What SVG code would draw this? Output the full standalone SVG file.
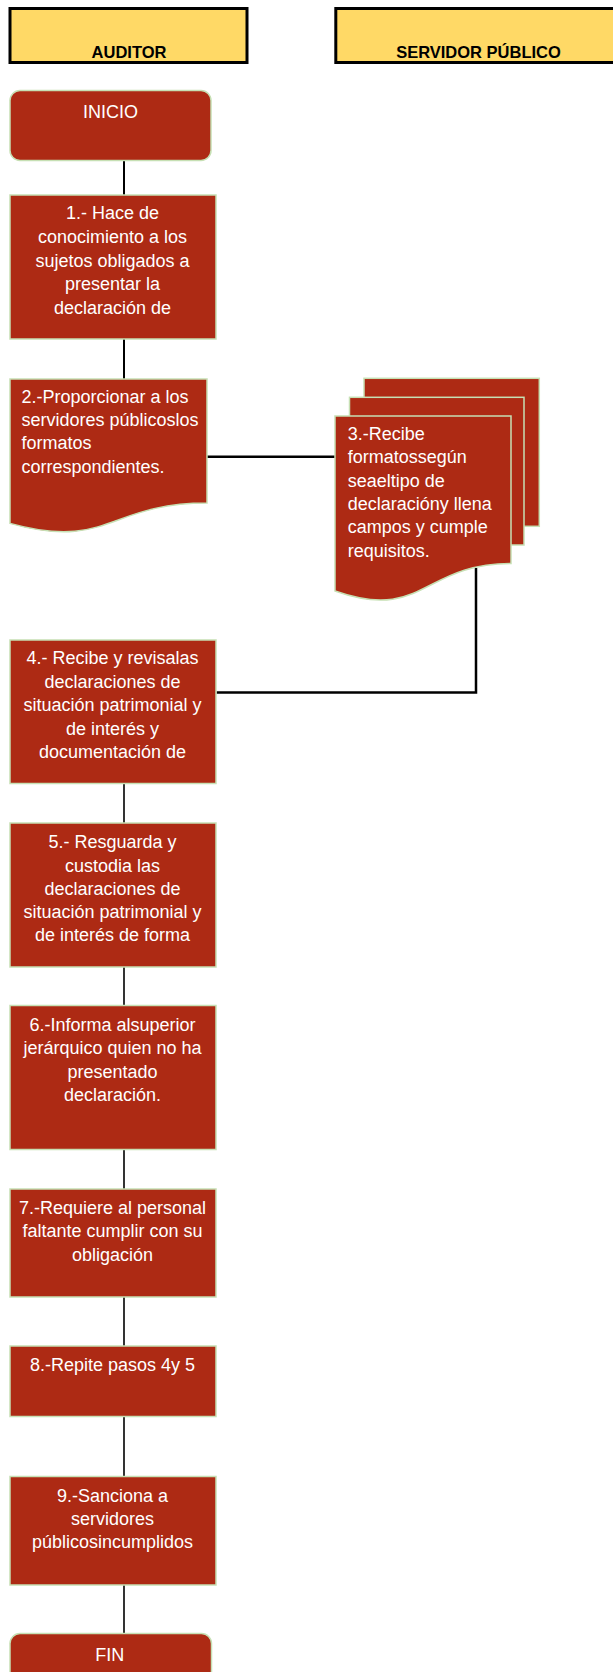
<svg xmlns="http://www.w3.org/2000/svg" width="613" height="1672" viewBox="0 0 613 1672">
<style>
.hdr{fill:#FFD966;stroke:#000;stroke-width:3}
.ht{font-family:"Liberation Sans",Arial,sans-serif;font-weight:bold;font-size:16.5px;fill:#000;text-anchor:middle}
.n{fill:#AD2A14;stroke:#C6E0B4;stroke-width:1.5}
.t{font-family:"Liberation Sans",Arial,sans-serif;font-size:18px;fill:#FFFFFF}
.c{text-anchor:middle}
.l{stroke:#000;fill:none}
</style>
<rect width="613" height="1672" fill="#FFFFFF"/>
<g id="lane-auditor">
<rect class="hdr" x="10" y="8.5" width="237" height="54"/>
<text class="ht" x="129" y="58">AUDITOR</text>
</g>
<g id="lane-servidor">
<rect class="hdr" x="335.8" y="8.5" width="290" height="54"/>
<text class="ht" x="478.5" y="58">SERVIDOR PÚBLICO</text>
</g>
<g id="connectors">
<line class="l" stroke-width="2" x1="124" y1="160.5" x2="124" y2="195"/>
<line class="l" stroke-width="2" x1="124" y1="339" x2="124" y2="379"/>
<line class="l" stroke-width="1.6" x1="124" y1="783.5" x2="124" y2="823"/>
<line class="l" stroke-width="1.6" x1="124" y1="967" x2="124" y2="1005.5"/>
<line class="l" stroke-width="1.6" x1="124" y1="1149.5" x2="124" y2="1189"/>
<line class="l" stroke-width="1.6" x1="124" y1="1297" x2="124" y2="1346"/>
<line class="l" stroke-width="1.6" x1="124" y1="1416.5" x2="124" y2="1476.5"/>
<line class="l" stroke-width="1.6" x1="124" y1="1585" x2="124" y2="1633.5"/>
<line class="l" stroke-width="2.5" x1="207" y1="456.7" x2="335" y2="456.7"/>
<polyline class="l" stroke-width="2.5" points="476,568 476,692.5 216.5,692.5"/>
</g>
<g id="inicio">
<rect class="n" x="10" y="90.5" width="201" height="70" rx="10"/>
<text class="t c" x="110.5" y="118">INICIO</text>
</g>
<g id="paso1">
<rect class="n" x="10" y="195" width="206" height="144"/>
<text class="t c" x="112.5"><tspan x="112.5" y="219.3">1.- Hace de</tspan><tspan x="112.5" y="243">conocimiento a los</tspan><tspan x="112.5" y="266.5">sujetos obligados a</tspan><tspan x="112.5" y="290">presentar la</tspan><tspan x="112.5" y="313.5">declaración de</tspan></text>
</g>
<g id="paso2">
<path class="n" d="M10,379 H207 V503 C108.5,503 108.5,550.7 10,523.4 Z"/>
<text class="t"><tspan x="21.5" y="402.7">2.-Proporcionar a los</tspan><tspan x="21.5" y="426">servidores públicoslos</tspan><tspan x="21.5" y="449.3">formatos</tspan><tspan x="21.5" y="472.7">correspondientes.</tspan></text>
</g>
<g id="paso3">
<rect class="n" x="364" y="378.3" width="175.3" height="148"/>
<rect class="n" x="349.5" y="397.3" width="174.5" height="147.7"/>
<path class="n" d="M335,416 H511 V563.5 C423,563.5 423,622 335,591 Z"/>
<text class="t"><tspan x="347.7" y="440">3.-Recibe</tspan><tspan x="347.7" y="463.3">formatossegún</tspan><tspan x="347.7" y="486.7">seaeltipo de</tspan><tspan x="347.7" y="510">declaracióny llena</tspan><tspan x="347.7" y="533.3">campos y cumple</tspan><tspan x="347.7" y="556.7">requisitos.</tspan></text>
</g>
<g id="paso4">
<rect class="n" x="10" y="640" width="206" height="143.5"/>
<text class="t c"><tspan x="112.5" y="664">4.- Recibe y revisalas</tspan><tspan x="112.5" y="687.5">declaraciones de</tspan><tspan x="112.5" y="711">situación patrimonial y</tspan><tspan x="112.5" y="734.5">de interés y</tspan><tspan x="112.5" y="758">documentación de</tspan></text>
</g>
<g id="paso5">
<rect class="n" x="10" y="823" width="206" height="144"/>
<text class="t c"><tspan x="112.5" y="848">5.- Resguarda y</tspan><tspan x="112.5" y="871.5">custodia las</tspan><tspan x="112.5" y="895">declaraciones de</tspan><tspan x="112.5" y="918">situación patrimonial y</tspan><tspan x="112.5" y="941">de interés de forma</tspan></text>
</g>
<g id="paso6">
<rect class="n" x="10" y="1005.5" width="206" height="144"/>
<text class="t c"><tspan x="112.5" y="1030.7">6.-Informa alsuperior</tspan><tspan x="112.5" y="1054">jerárquico quien no ha</tspan><tspan x="112.5" y="1077.5">presentado</tspan><tspan x="112.5" y="1100.7">declaración.</tspan></text>
</g>
<g id="paso7">
<rect class="n" x="10" y="1189" width="206" height="108"/>
<text class="t c"><tspan x="112.5" y="1214">7.-Requiere al personal</tspan><tspan x="112.5" y="1237.3">faltante cumplir con su</tspan><tspan x="112.5" y="1260.7">obligación</tspan></text>
</g>
<g id="paso8">
<rect class="n" x="10" y="1346" width="206" height="70.5"/>
<text class="t c" x="112.5" y="1370.7">8.-Repite pasos 4y 5</text>
</g>
<g id="paso9">
<rect class="n" x="10" y="1476.5" width="206" height="108.5"/>
<text class="t c"><tspan x="112.5" y="1501.7">9.-Sanciona a</tspan><tspan x="112.5" y="1525">servidores</tspan><tspan x="112.5" y="1548.3">públicosincumplidos</tspan></text>
</g>
<g id="fin">
<rect class="n" x="10" y="1633.5" width="201.5" height="70" rx="10"/>
<text class="t c" x="109.7" y="1661">FIN</text>
</g>
</svg>
